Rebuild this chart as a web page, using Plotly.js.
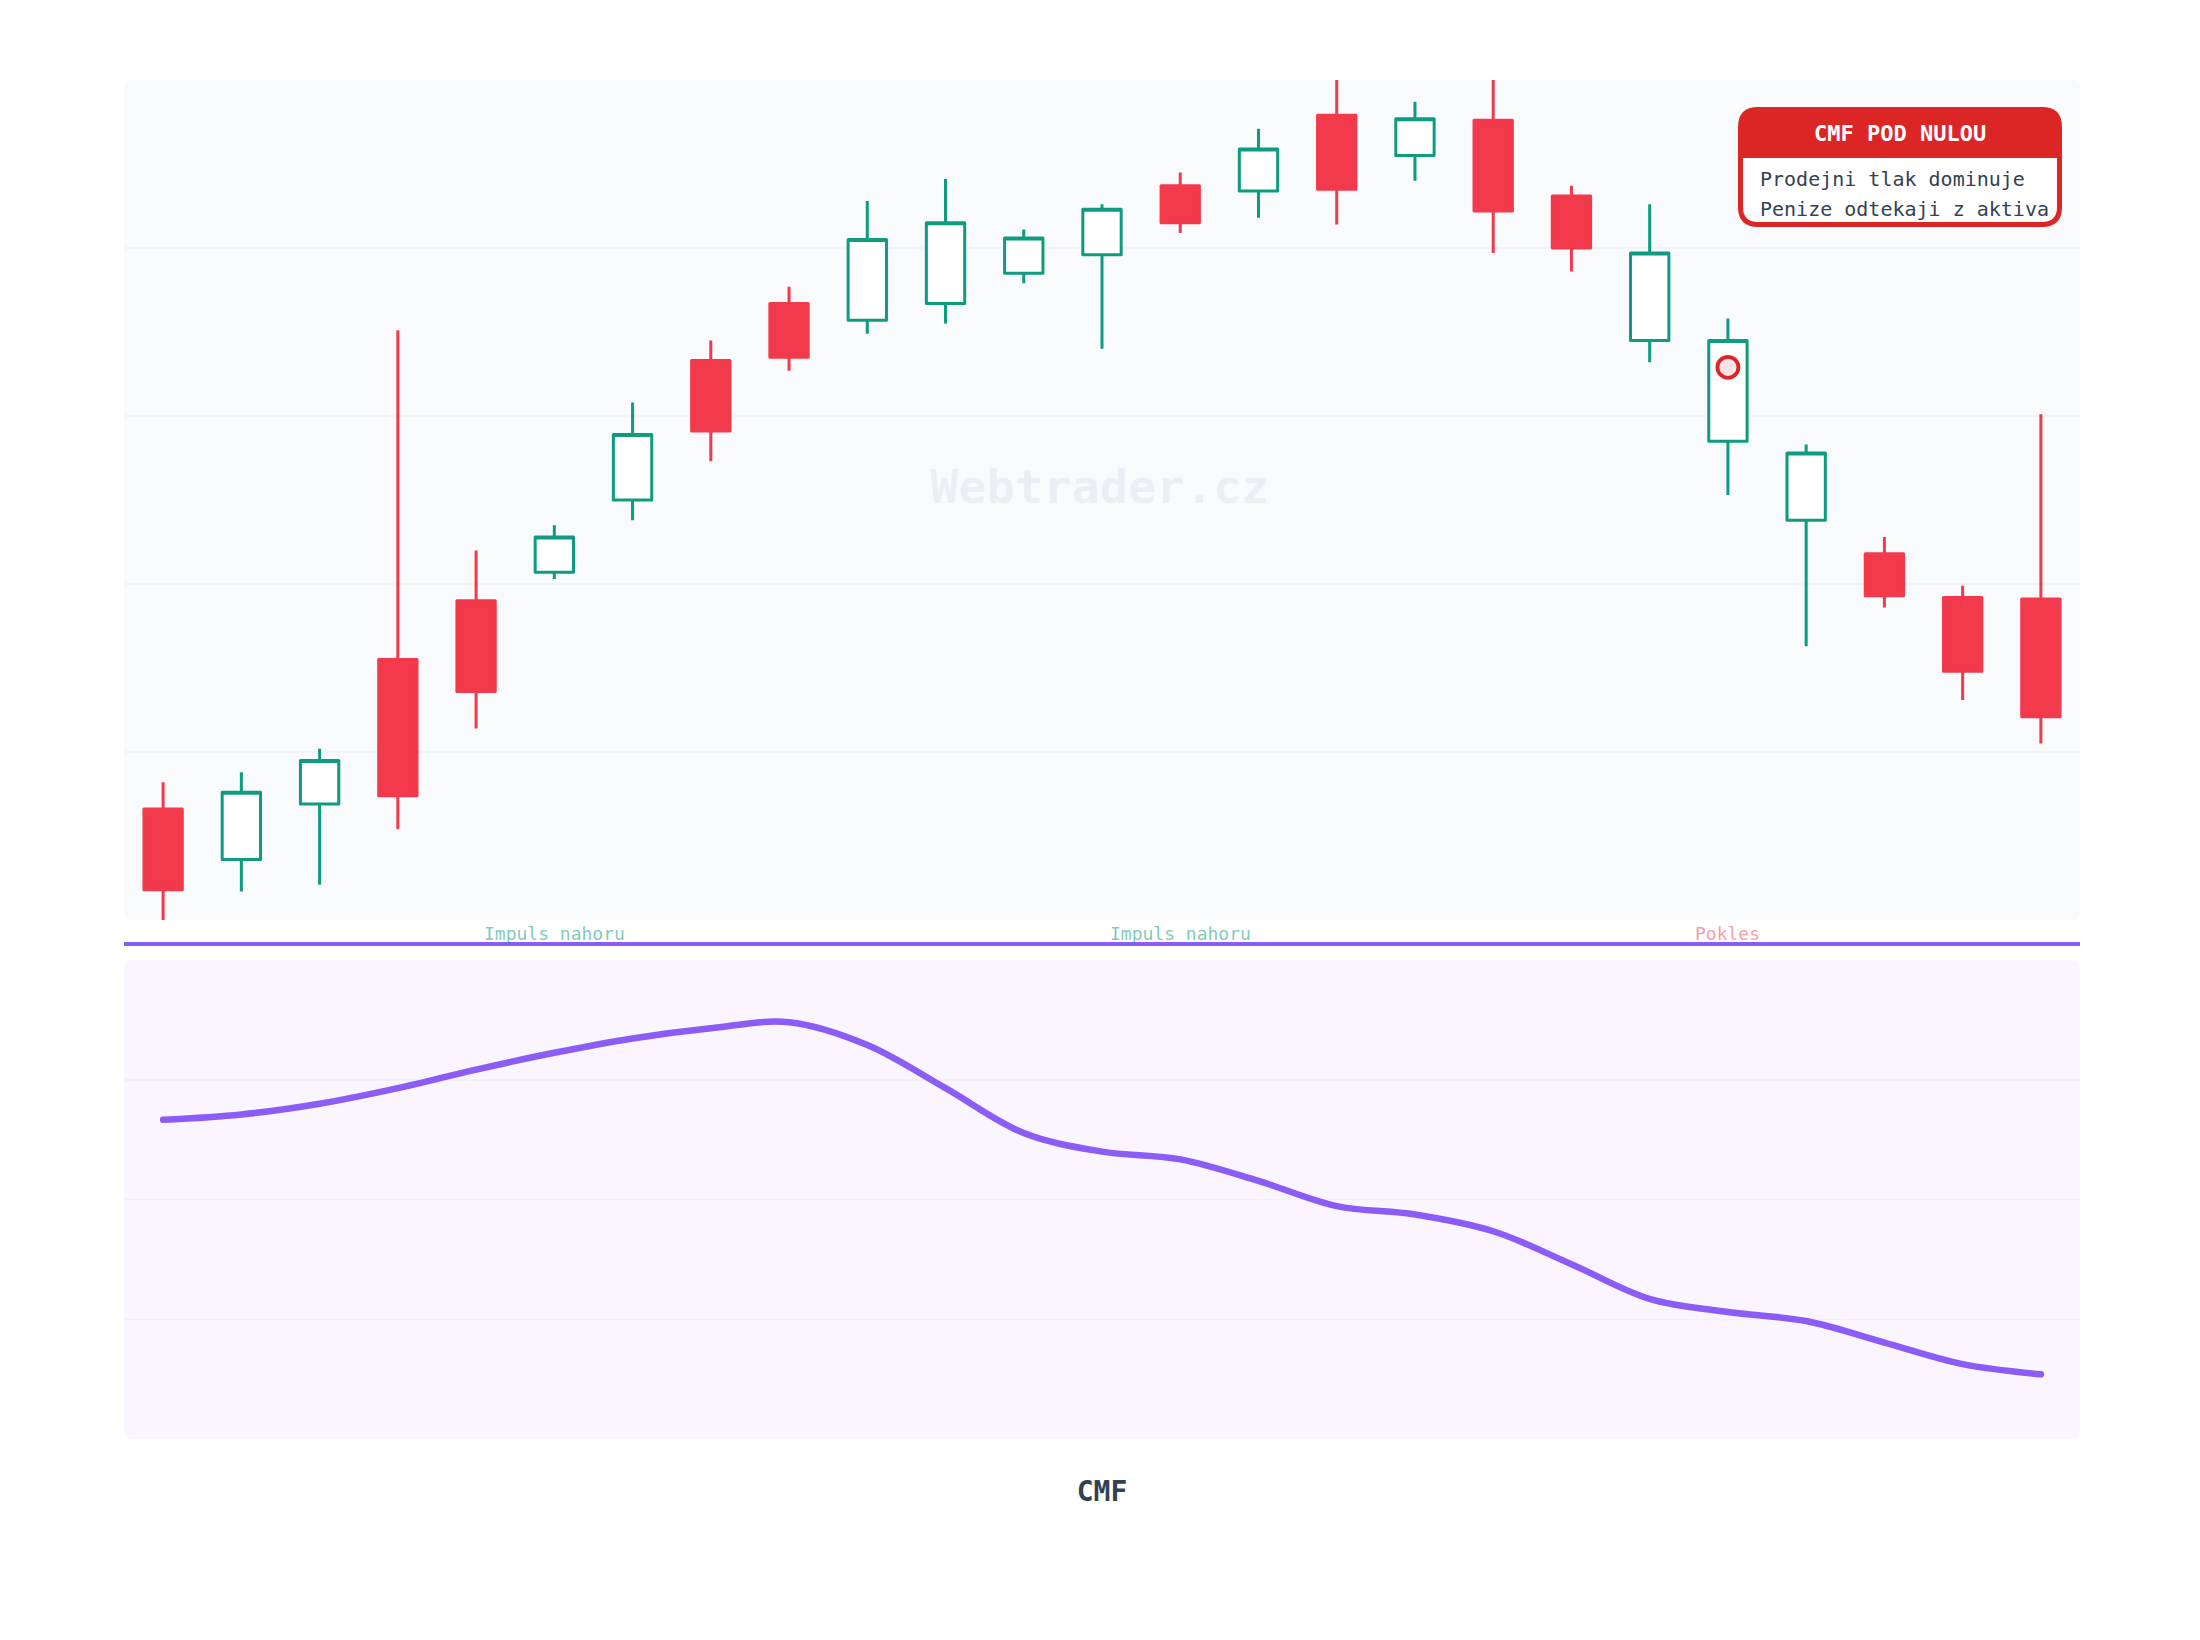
<!DOCTYPE html>
<html>
<head>
<meta charset="utf-8">
<script src="https://cdn.plot.ly/plotly-3.0.1.min.js"></script>
<style>
  html, body { margin: 0; padding: 0; background: #ffffff; }
  #chart { width: 2200px; height: 1640px; }
  #chart path.box { stroke-linejoin: round; }
  #chart path.js-line { stroke-linecap: round; stroke-linejoin: round; }
</style>
</head>
<body>
<div id="chart"></div>
<script>
// ---------- data ----------
const bars = [0, 1, 2, 3, 4, 5, 6, 7, 8, 9, 10, 11, 12, 13, 14, 15, 16, 17, 18, 19, 20, 21, 22, 23, 24];
const openPrices  = [106.6, 103.6, 106.9, 115.5, 119.0, 120.7, 125.0, 133.3, 136.7, 135.7, 136.7, 138.5, 139.6, 143.7, 143.4, 147.9, 145.5, 147.6, 143.1, 134.5, 128.5, 123.8, 121.8, 119.2, 119.1];
const highPrices  = [108.2, 108.8, 110.2, 135.1, 122.0, 123.5, 130.8, 134.5, 137.7, 142.8, 144.1, 141.1, 142.6, 144.5, 147.1, 151.0, 148.7, 151.2, 143.7, 142.6, 135.8, 128.3, 122.8, 119.9, 130.1];
const lowPrices   = [99.0, 101.7, 102.1, 105.4, 111.4, 120.3, 123.8, 127.3, 132.7, 134.9, 135.5, 137.9, 134.0, 140.9, 141.8, 141.4, 144.0, 139.7, 138.6, 133.2, 125.3, 116.3, 118.6, 113.1, 110.5];
const closePrices = [101.8, 107.6, 109.5, 107.4, 113.6, 122.8, 128.9, 129.1, 133.5, 140.5, 141.5, 140.6, 142.3, 141.5, 145.9, 143.5, 147.7, 142.2, 140.0, 139.7, 134.5, 127.8, 119.3, 114.8, 112.1];
const cmfValues   = [0.133, 0.142, 0.160, 0.186, 0.217, 0.245, 0.269, 0.286, 0.296, 0.258, 0.186, 0.111, 0.080, 0.067, 0.031, -0.011, -0.025, -0.053, -0.108, -0.166, -0.188, -0.203, -0.239, -0.275, -0.292];

const signalX = [20];
const signalY = [132.9];

const phaseX = [5, 13, 20];
const phaseLabels = ['Impuls nahoru', 'Impuls nahoru', 'Pokles'];
const phaseKinds = ['up', 'up', 'down'];

const calloutTitle = 'CMF POD NULOU';
const calloutLines = ['Prodejni tlak dominuje', 'Penize odtekaji z aktiva'];
const watermark = 'Webtrader.cz';
const panelTitle = 'CMF';

// ---------- style ----------
const UP = '#0e9b80';
const DOWN = '#f23a4c';
const PURPLE = '#8b5cf6';
const ALERT = '#dc2626';
const MONO = 'DejaVu Sans Mono, monospace';

const W = 2200, H = 1640;
const M = {l: 124, r: 120, t: 80, b: 201};
const plotW = W - M.l - M.r;
const plotH = H - M.t - M.b;
// pixel (page) -> paper helpers
const px = x => (x - M.l) / plotW;
const py = y => (M.t + plotH - y) / plotH;

function roundRect(x0, y0, x1, y1, r, rb) {
  // pixel coords (y0 top, y1 bottom); r top radius, rb bottom radius
  if (rb === undefined) rb = r;
  const P = (x, y) => px(x).toFixed(5) + ',' + py(y).toFixed(5);
  return 'M' + P(x0 + r, y0) +
    ' L' + P(x1 - r, y0) + ' Q' + P(x1, y0) + ' ' + P(x1, y0 + r) +
    ' L' + P(x1, y1 - rb) + ' Q' + P(x1, y1) + ' ' + P(x1 - rb, y1) +
    ' L' + P(x0 + rb, y1) + ' Q' + P(x0, y1) + ' ' + P(x0, y1 - rb) +
    ' L' + P(x0, y0 + r) + ' Q' + P(x0, y0) + ' ' + P(x0 + r, y0) + ' Z';
}

const mainTop = 80, mainBottom = 920, lowTop = 960, lowBottom = 1439;

const traces = [
  {
    type: 'candlestick',
    x: bars, open: openPrices, high: highPrices, low: lowPrices, close: closePrices,
    xaxis: 'x', yaxis: 'y',
    increasing: {line: {color: UP, width: 3}, fillcolor: '#ffffff'},
    decreasing: {line: {color: DOWN, width: 3}, fillcolor: DOWN},
    hoverinfo: 'skip', showlegend: false
  },
  {
    type: 'scatter', mode: 'markers',
    x: signalX, y: signalY, xaxis: 'x', yaxis: 'y',
    marker: {size: 21, color: 'rgba(220,38,38,0.13)', line: {color: ALERT, width: 3.8}},
    hoverinfo: 'skip', showlegend: false
  },
  {
    type: 'scatter', mode: 'lines',
    x: bars, y: cmfValues, xaxis: 'x2', yaxis: 'y2',
    line: {color: PURPLE, width: 6.5, shape: 'spline', smoothing: 1},
    hoverinfo: 'skip', showlegend: false
  }
];

const annotations = [];
annotations.push({
  xref: 'x domain', yref: 'y domain', x: 0.499, y: (mainBottom - 486) / (mainBottom - mainTop),
  xanchor: 'center', yanchor: 'middle',
  text: '<b>' + watermark + '</b>', showarrow: false,
  font: {family: MONO, size: 47, color: 'rgba(148,163,184,0.13)'}
});
phaseLabels.forEach((t, i) => {
  annotations.push({
    xref: 'x', yref: 'paper', x: phaseX[i], y: py(933), xanchor: 'center', yanchor: 'middle',
    text: t, showarrow: false,
    font: {family: MONO, size: 18, color: phaseKinds[i] === 'up' ? 'rgba(14,155,128,0.55)' : 'rgba(242,58,76,0.5)'}
  });
});
annotations.push({
  xref: 'paper', yref: 'paper', x: px(1900), y: py(134), xanchor: 'center', yanchor: 'middle',
  text: '<b>' + calloutTitle + '</b>', showarrow: false,
  font: {family: MONO, size: 22, color: '#ffffff'}
});
calloutLines.forEach((t, i) => {
  annotations.push({
    xref: 'paper', yref: 'paper', x: px(1758), y: py(179 + i * 30), xanchor: 'left', yanchor: 'middle',
    text: t, showarrow: false,
    font: {family: MONO, size: 20, color: '#334155'}
  });
});

const shapes = [
  {type: 'path', xref: 'paper', yref: 'paper', layer: 'below', path: roundRect(M.l, mainTop, M.l + plotW, mainBottom, 8),
   fillcolor: '#f8fafc', line: {width: 0}},
  {type: 'path', xref: 'paper', yref: 'paper', layer: 'below', path: roundRect(M.l, lowTop, M.l + plotW, lowBottom, 8),
   fillcolor: '#faf5ff', line: {width: 0}},
  {type: 'line', xref: 'paper', yref: 'paper', x0: 0, x1: 1, y0: py(944), y1: py(944),
   line: {color: PURPLE, width: 4}},
  {type: 'path', xref: 'paper', yref: 'paper', layer: 'above', path: roundRect(1738, 107, 2062, 227, 20),
   fillcolor: ALERT, line: {width: 0}},
  {type: 'path', xref: 'paper', yref: 'paper', layer: 'above', path: roundRect(1743, 158, 2057, 222, 0, 15),
   fillcolor: '#ffffff', line: {width: 0}}
];

const layout = {
  width: W, height: H,
  margin: M,
  paper_bgcolor: '#ffffff',
  plot_bgcolor: 'rgba(0,0,0,0)',
  showlegend: false,
  hovermode: false,
  font: {family: MONO, color: '#334155'},
  xaxis: {
    domain: [0, 1], anchor: 'y', range: [-0.5, 24.5],
    showticklabels: false, showgrid: false, zeroline: false, showline: false, ticks: '',
    rangeslider: {visible: false}, fixedrange: true
  },
  yaxis: {
    domain: [py(mainBottom), 1], anchor: 'x', range: [100, 150], tick0: 100, dtick: 10,
    showticklabels: false, showgrid: true, gridcolor: '#f1f4f8', gridwidth: 1.5,
    zeroline: false, showline: false, ticks: '', fixedrange: true
  },
  xaxis2: {
    domain: [0, 1], anchor: 'y2', range: [-0.5, 24.5], matches: 'x',
    showticklabels: false, showgrid: false, zeroline: false, showline: false, ticks: '',
    automargin: false,
    title: {text: '<b>' + panelTitle + '</b>', font: {family: MONO, size: 28, color: '#334155'}, standoff: 42}
  },
  yaxis2: {
    domain: [0, py(lowTop)], anchor: 'x2', range: [-0.4, 0.4], tick0: -0.4, dtick: 0.2,
    showticklabels: false, showgrid: true, gridcolor: '#f3eff9', gridwidth: 1.5,
    zeroline: false, showline: false, ticks: '', fixedrange: true
  },
  shapes: shapes,
  annotations: annotations
};

Plotly.newPlot('chart', traces, layout, {staticPlot: true, displayModeBar: false});
</script>
</body>
</html>
